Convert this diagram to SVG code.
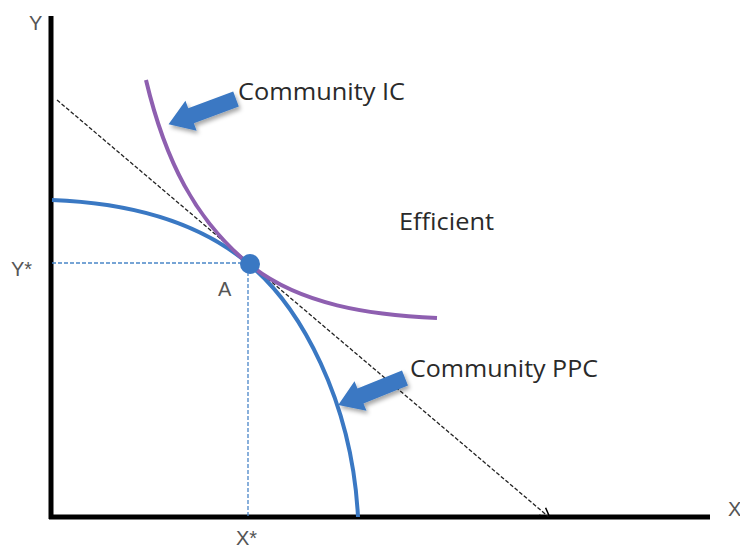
<svg xmlns="http://www.w3.org/2000/svg" width="740" height="548" viewBox="0 0 740 548">
<style>
.lbl{font-family:"Liberation Sans",Arial,sans-serif;font-size:20px;fill:#555}
.txt{font-family:"Open Sans","Liberation Sans",sans-serif;font-size:24px;fill:#2a2a2a}
.guide{stroke:#4a86c8;stroke-width:1.3;stroke-dasharray:4 2;fill:none}
</style>
<defs>
<marker id="open" viewBox="0 0 12 12" refX="11" refY="6" markerWidth="12" markerHeight="12" markerUnits="userSpaceOnUse" orient="auto">
<path d="M1,1 L11,6 L1,11" fill="none" stroke="#000" stroke-width="1.5"/>
</marker>
<filter id="sh" x="-20%" y="-20%" width="150%" height="160%">
<feDropShadow dx="2" dy="3" stdDeviation="2" flood-color="#000" flood-opacity="0.35"/>
</filter>
<polygon id="blk" points="0,-8 -48,-8 -48,-16 -72,0 -48,16 -48,8 0,8" fill="#3a78c3"/>
</defs>
<g id="axes">
<line x1="51" y1="16" x2="51" y2="519" stroke="#000" stroke-width="5"/>
<line x1="49" y1="517" x2="710" y2="517" stroke="#000" stroke-width="5"/>
<text class="lbl" x="29" y="30">Y</text>
<text class="lbl" x="728" y="516">X</text>
</g>
<g id="connectors">
<line x1="57" y1="100" x2="550" y2="518" stroke="#222" stroke-width="1.3" stroke-dasharray="4 2" marker-end="url(#open)"/>
<path class="guide" d="M52,263 H250"/>
<path class="guide" d="M248,266 V516"/>
</g>
<g id="ppc">
<path d="M52,200 C130,203 200,222 250,265 C300,307 352,400 358,517" fill="none" stroke="#3a78c3" stroke-width="4"/>
</g>
<g id="ic">
<path d="M146,80 C165,160 195,220 250,265 C300,305 370,315 437,318" fill="none" stroke="#8e5fb0" stroke-width="4"/>
</g>
<g id="pointA">
<circle cx="250" cy="264" r="10" fill="#3a78c3"/>
<text class="lbl" x="218" y="296">A</text>
</g>
<g id="ystar"><text class="lbl" x="11" y="276">Y*</text></g>
<g id="xstar"><text class="lbl" x="236" y="545">X*</text></g>
<g id="arrowIC" filter="url(#sh)">
<use href="#blk" transform="translate(236,99) rotate(-20.5)"/>
</g>
<g id="arrowPPC" filter="url(#sh)">
<use href="#blk" transform="translate(405,378) rotate(-22)"/>
</g>
<g id="labelIC"><text class="txt" x="238" y="100" textLength="167" lengthAdjust="spacingAndGlyphs">Community IC</text></g>
<g id="labelEff"><text class="txt" x="399" y="230" textLength="95" lengthAdjust="spacingAndGlyphs">Efficient</text></g>
<g id="labelPPC"><text class="txt" x="410" y="377" textLength="188" lengthAdjust="spacingAndGlyphs">Community PPC</text></g>
</svg>
